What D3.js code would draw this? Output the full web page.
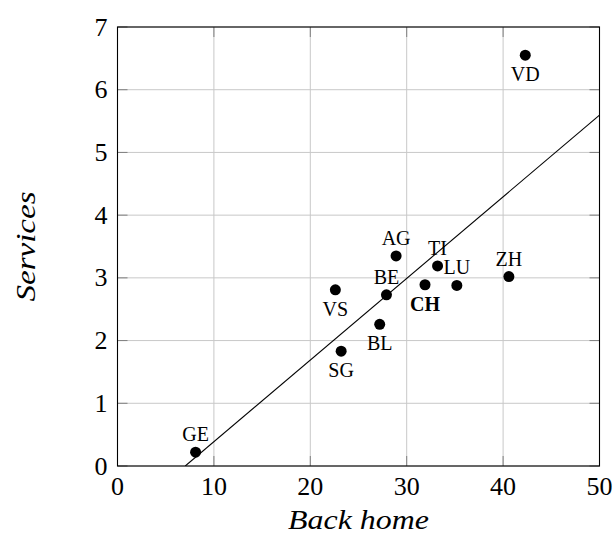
<!DOCTYPE html>
<html>
<head>
<meta charset="utf-8">
<script src="https://cdn.jsdelivr.net/npm/d3@7"></script>
<style>
  html, body { margin: 0; padding: 0; background: #fff; }
  svg text { font-family: "Liberation Serif", "DejaVu Serif", serif; fill: #000; }
</style>
</head>
<body>
<script>
// cantons: back home (x) vs services (y)
var cantons   = ["VD", "ZH", "LU", "CH", "TI", "AG", "BE", "VS", "BL", "SG", "GE"];
var backHome  = [42.3, 40.6, 35.2, 31.9, 33.2, 28.9, 27.9, 22.6, 27.2, 23.2, 8.1];
var services  = [6.55, 3.02, 2.88, 2.89, 3.19, 3.35, 2.73, 2.81, 2.26, 1.83, 0.22];
var labelPos  = ["below", "above", "above", "below", "above", "above", "above", "below", "below", "below", "above"];
var xTicks = [0, 10, 20, 30, 40, 50];
var yTicks = [0, 1, 2, 3, 4, 5, 6, 7];
// fitted line: services = intercept + slope * backHome
var fitIntercept = -0.915;
var fitSlope = 0.1302;

var width = 613, height = 538;
var plotL = 117.5, plotR = 599.5, plotT = 27, plotB = 466;

var svg = d3.select("body").append("svg")
    .attr("width", width)
    .attr("height", height);

var x = d3.scaleLinear().domain([0, 50]).range([plotL, plotR]);
var y = d3.scaleLinear().domain([0, 7]).range([plotB, plotT]);

// grid
svg.append("g").selectAll("line").data(xTicks).enter().append("line")
    .attr("x1", d => x(d)).attr("x2", d => x(d))
    .attr("y1", plotT).attr("y2", plotB)
    .attr("stroke", "#c8c8c8").attr("stroke-width", 1);
svg.append("g").selectAll("line").data(yTicks).enter().append("line")
    .attr("x1", plotL).attr("x2", plotR)
    .attr("y1", d => y(d)).attr("y2", d => y(d))
    .attr("stroke", "#c8c8c8").attr("stroke-width", 1);

// inner ticks on all four sides
var tk = 10;
var ticks = svg.append("g").attr("stroke", "#808080").attr("stroke-width", 1);
xTicks.forEach(function (d) {
    ticks.append("line").attr("x1", x(d)).attr("x2", x(d)).attr("y1", plotB).attr("y2", plotB - tk);
    ticks.append("line").attr("x1", x(d)).attr("x2", x(d)).attr("y1", plotT).attr("y2", plotT + tk);
});
yTicks.forEach(function (d) {
    ticks.append("line").attr("x1", plotL).attr("x2", plotL + tk).attr("y1", y(d)).attr("y2", y(d));
    ticks.append("line").attr("x1", plotR).attr("x2", plotR - tk).attr("y1", y(d)).attr("y2", y(d));
});

// frame
svg.append("rect")
    .attr("x", plotL).attr("y", plotT)
    .attr("width", plotR - plotL).attr("height", plotB - plotT)
    .attr("fill", "none").attr("stroke", "#000").attr("stroke-width", 1.1);

// tick labels
svg.append("g").selectAll("text").data(xTicks).enter().append("text")
    .attr("x", d => x(d)).attr("y", plotB + 29)
    .attr("text-anchor", "middle")
    .style("font-size", "26px")
    .text(d => d);
svg.append("g").selectAll("text").data(yTicks).enter().append("text")
    .attr("x", plotL - 10).attr("y", d => y(d) + 8.5)
    .attr("text-anchor", "end")
    .style("font-size", "26px")
    .text(d => d);

// axis titles (slightly widened to mimic the wider original face)
svg.append("text")
    .attr("transform", "translate(" + ((plotL + plotR) / 2) + ",529) scale(1.14,1)")
    .attr("text-anchor", "middle")
    .style("font-size", "28px").style("font-style", "italic")
    .text("Back home");
svg.append("text")
    .attr("transform", "translate(35," + ((plotT + plotB) / 2) + ") rotate(-90) scale(1.18,1)")
    .attr("text-anchor", "middle")
    .style("font-size", "28px").style("font-style", "italic")
    .text("Services");

// fitted line, clipped to the plot area
svg.append("clipPath").attr("id", "plotclip").append("rect")
    .attr("x", plotL).attr("y", plotT).attr("width", plotR - plotL).attr("height", plotB - plotT);
var x0 = -fitIntercept / fitSlope;
svg.append("line")
    .attr("clip-path", "url(#plotclip)")
    .attr("x1", x(x0)).attr("y1", y(0))
    .attr("x2", x(50)).attr("y2", y(fitIntercept + fitSlope * 50))
    .attr("stroke", "#000").attr("stroke-width", 1.1);

// points
var pts = cantons.map(function (c, i) {
    return { name: c, x: backHome[i], y: services[i], pos: labelPos[i] };
});
svg.append("g").selectAll("circle").data(pts).enter().append("circle")
    .attr("cx", d => x(d.x)).attr("cy", d => y(d.y))
    .attr("r", 5.5).attr("fill", "#000");

svg.append("g").selectAll("text").data(pts).enter().append("text")
    .attr("x", d => x(d.x))
    .attr("y", d => d.pos === "above" ? y(d.y) - 11 : y(d.y) + 26)
    .attr("text-anchor", "middle")
    .style("font-size", "20px")
    .style("font-weight", d => d.name === "CH" ? "bold" : "normal")
    .text(d => d.name);
</script>
</body>
</html>
